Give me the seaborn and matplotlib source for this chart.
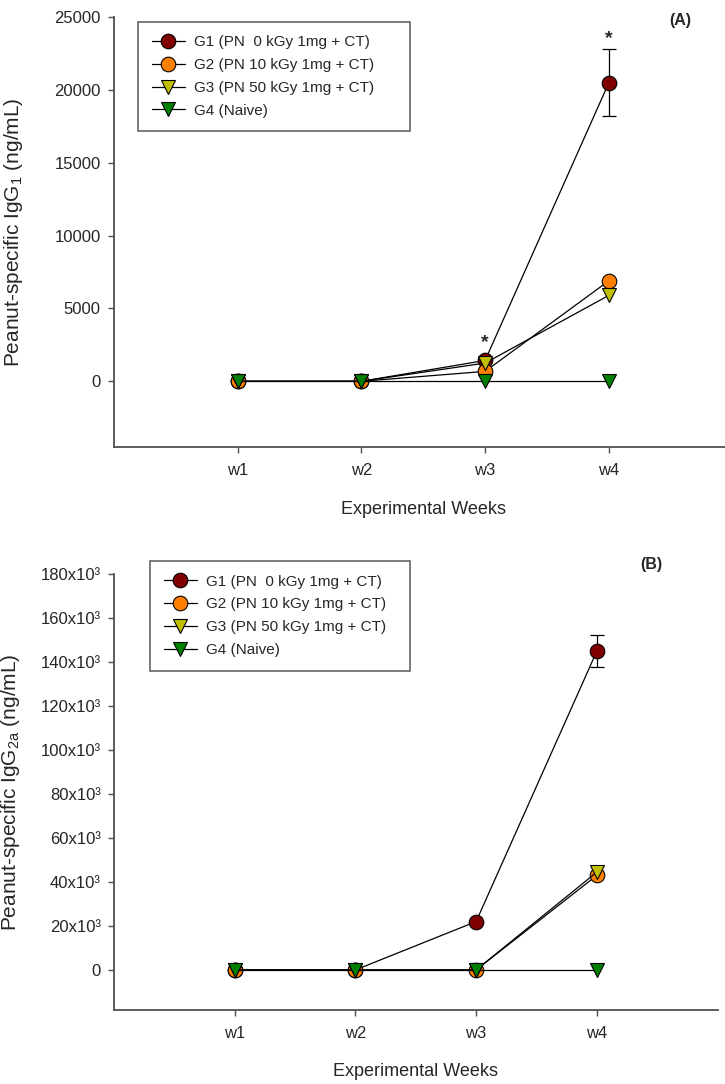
import numpy as np
import pandas as pd
import matplotlib
matplotlib.use("Agg")
import matplotlib.pyplot as plt
import seaborn as sns

# ---- data -------------------------------------------------------------
weeks = [1, 2, 3, 4]
week_labels = ["w1", "w2", "w3", "w4"]
groups = ["G1 (PN  0 kGy 1mg + CT)", "G2 (PN 10 kGy 1mg + CT)",
          "G3 (PN 50 kGy 1mg + CT)", "G4 (Naive)"]

igg1_g1 = [0, 0, 1430, 20500]
igg1_g2 = [0, 0, 680, 6900]
igg1_g3 = [0, 0, 1250, 5900]
igg1_g4 = [0, 0, 0, 0]
igg1_g1_err = [0, 0, 0, 2300]

igg2a_g1 = [0, 0, 22000, 145000]
igg2a_g2 = [0, 0, 0, 43000]
igg2a_g3 = [0, 0, 0, 44500]
igg2a_g4 = [0, 0, 0, 0]
igg2a_g1_err = [0, 0, 0, 7400]

igg1_sig_weeks = [3, 4]
igg1_sig_heights = [2650, 23560]

igg1_ticks = [0, 5000, 10000, 15000, 20000, 25000]
igg1_ticklabels = ["0", "5000", "10000", "15000", "20000", "25000"]
igg2a_ticks = [0, 20000, 40000, 60000, 80000, 100000, 120000, 140000, 160000, 180000]
igg2a_ticklabels = ["0", "20x10³", "40x10³", "60x10³", "80x10³", "100x10³",
                    "120x10³", "140x10³", "160x10³", "180x10³"]

# ---- style ------------------------------------------------------------
sns.set_style("ticks")
plt.rcParams["font.family"] = ["Liberation Sans", "DejaVu Sans"]
plt.rcParams["mathtext.fontset"] = "custom"
plt.rcParams["mathtext.rm"] = "Liberation Sans"
plt.rcParams["mathtext.it"] = "Liberation Sans:italic"
plt.rcParams["mathtext.bf"] = "Liberation Sans:bold"

face_colors = ["#800000", "#FF8000", "#C0C000", "#008000"]
markers = ["o", "o", "v", "v"]
spine_col = "#505050"

W, H = 725, 1084
fig = plt.figure(figsize=(W / 100, H / 100), dpi=100)


def axes_px(left, top, right, bottom):
    return fig.add_axes([left / W, 1 - bottom / H, (right - left) / W, (bottom - top) / H])


def long_frame(series):
    rows = []
    for g, vals in zip(groups, series):
        for w, v in zip(weeks, vals):
            rows.append({"week": w, "value": v, "group": g})
    return pd.DataFrame(rows)


def draw_panel(ax, series, err, ylim, yticks, yticklabels, ylabel, ylabel_x):
    df = long_frame(series)
    handles = []
    for g, fc, mk in zip(groups, face_colors, markers):
        sub = df[df["group"] == g]
        sns.lineplot(data=sub, x="week", y="value", ax=ax, color="black",
                     linewidth=0.9, marker=mk, markersize=10.5,
                     markerfacecolor=fc, markeredgecolor="black",
                     markeredgewidth=0.8, errorbar=None, label=g, legend=False)
        handles.append(ax.lines[-1])
    ax.errorbar(weeks, series[0], yerr=err, fmt="none", ecolor="black",
                elinewidth=0.9, capsize=5, capthick=0.9, zorder=1)

    ax.set_xlim(0, 5)
    ax.set_ylim(*ylim)
    ax.set_xticks(weeks)
    ax.set_xticklabels(week_labels)
    ax.set_yticks(yticks)
    ax.set_yticklabels(yticklabels)
    ax.tick_params(axis="both", direction="out", length=4.5, width=1.0,
                   color=spine_col, labelsize=12, pad=5)
    ax.tick_params(axis="x", pad=7.5)
    for s in ["top", "right"]:
        ax.spines[s].set_visible(False)
    for s in ["left", "bottom"]:
        ax.spines[s].set_color(spine_col)
        ax.spines[s].set_linewidth(1.3)
    ax.spines["left"].set_bounds(ylim[0], yticks[-1])
    ax.set_xlabel("Experimental Weeks", fontsize=13, labelpad=16)
    ax.set_ylabel(ylabel, fontsize=15)
    # y label centre at a fixed horizontal pixel position
    pos = ax.get_position()
    ax.yaxis.set_label_coords((ylabel_x - pos.x0 * W) / (pos.width * W), 0.5)
    return handles


def add_legend(ax, handles, left, top, right):
    leg = ax.legend(handles=handles, labels=groups, loc="upper left",
                    bbox_to_anchor=(left / W, 1 - top / H, (right - left) / W, 0.0),
                    bbox_transform=fig.transFigure, mode="expand",
                    frameon=True, fancybox=False, fontsize=11, handlelength=2.15,
                    handletextpad=0.6, labelspacing=0.57, borderpad=0.9,
                    borderaxespad=0)
    leg.get_frame().set_edgecolor("#303030")
    leg.get_frame().set_linewidth(1.1)
    return leg


# Panel A: IgG1
axA = axes_px(114, 17.3, 732.5, 446.8)
hA = draw_panel(axA, [igg1_g1, igg1_g2, igg1_g3, igg1_g4], igg1_g1_err,
                (-4500, 25000), igg1_ticks, igg1_ticklabels,
                r"Peanut-specific IgG$_{\mathrm{1}}$ (ng/mL)", 25)
for w, h in zip(igg1_sig_weeks, igg1_sig_heights):
    axA.text(w, h, "*", ha="center", va="center", fontsize=14, fontweight="bold")
fig.text(680 / W, 1 - 21 / H, "(A)", ha="center", va="center",
         fontsize=11.5, fontweight="bold")
add_legend(axA, hA, 138, 21.7, 410)

# Panel B: IgG2a
axB = axes_px(114, 574.3, 717.5, 1009.5)
hB = draw_panel(axB, [igg2a_g1, igg2a_g2, igg2a_g3, igg2a_g4], igg2a_g1_err,
                (-18000, 180000), igg2a_ticks, igg2a_ticklabels,
                r"Peanut-specific IgG$_{\mathrm{2a}}$ (ng/mL)", 22)
fig.text(651 / W, 1 - 565 / H, "(B)", ha="center", va="center",
         fontsize=11.5, fontweight="bold")
add_legend(axB, hB, 150, 561, 410)

fig.savefig("out.png", dpi=100, facecolor="white")
